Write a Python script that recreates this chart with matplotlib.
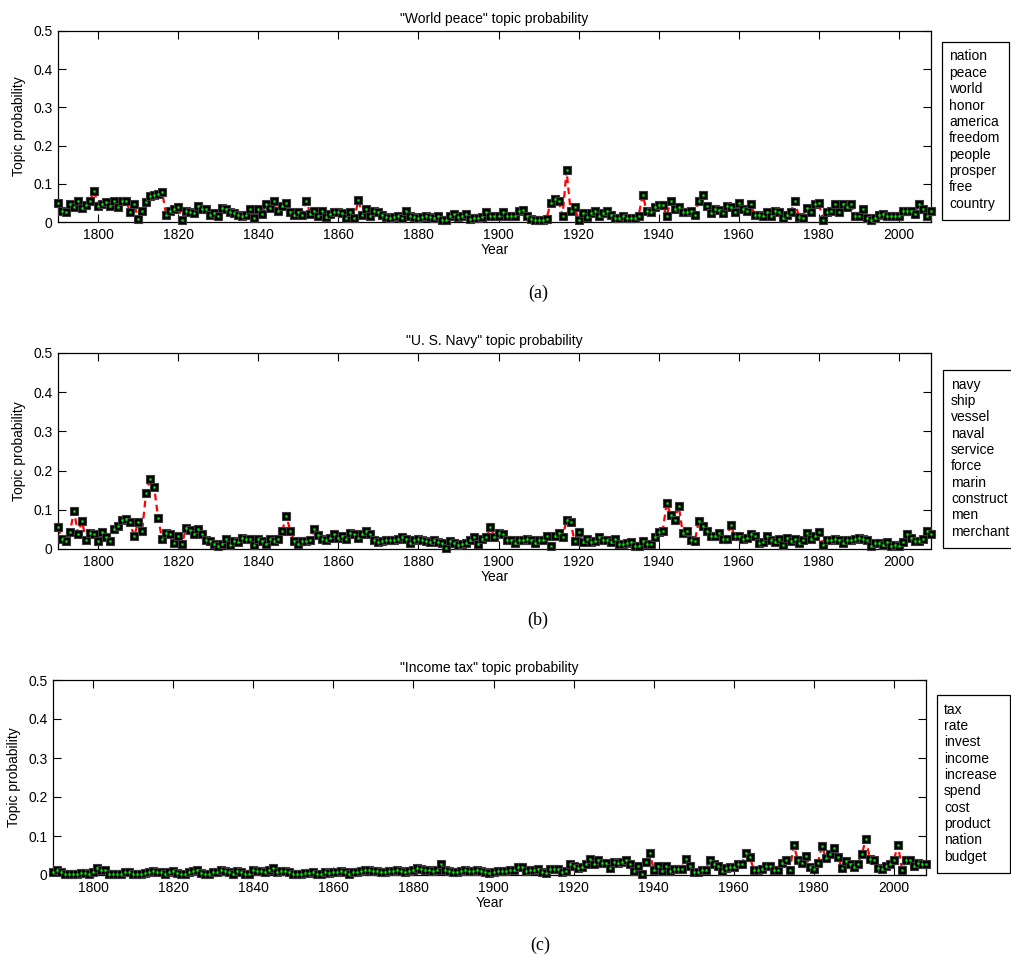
import numpy as np
import matplotlib
matplotlib.use("Agg")
import matplotlib.pyplot as plt
from matplotlib.patches import Rectangle

plt.rcParams['font.family'] = ['Liberation Sans', 'DejaVu Sans']

years = list(range(1790, 2009))

world_peace = [
    0.050, 0.030, 0.026, 0.048, 0.038, 0.056, 0.036, 0.045, 0.054, 0.082,
    0.043, 0.047, 0.052, 0.043, 0.054, 0.038, 0.054, 0.056, 0.026, 0.048,
    0.009, 0.030, 0.052, 0.067, 0.070, 0.073, 0.079, 0.019, 0.028, 0.034,
    0.039, 0.006, 0.030, 0.026, 0.023, 0.041, 0.034, 0.035, 0.019, 0.023,
    0.017, 0.036, 0.034, 0.026, 0.023, 0.019, 0.015, 0.019, 0.035, 0.010,
    0.034, 0.022, 0.047, 0.036, 0.054, 0.030, 0.043, 0.050, 0.026, 0.019,
    0.026, 0.019, 0.054, 0.022, 0.028, 0.015, 0.028, 0.013, 0.022, 0.026,
    0.026, 0.023, 0.010, 0.026, 0.010, 0.057, 0.019, 0.033, 0.017, 0.030,
    0.026, 0.019, 0.013, 0.010, 0.013, 0.017, 0.010, 0.030, 0.015, 0.013,
    0.010, 0.013, 0.015, 0.013, 0.010, 0.015, 0.006, 0.004, 0.015, 0.021,
    0.012, 0.017, 0.021, 0.008, 0.010, 0.010, 0.012, 0.026, 0.017, 0.016,
    0.015, 0.025, 0.016, 0.016, 0.017, 0.030, 0.032, 0.015, 0.008, 0.006,
    0.006, 0.006, 0.009, 0.050, 0.060, 0.054, 0.017, 0.135, 0.028, 0.039,
    0.006, 0.024, 0.013, 0.024, 0.030, 0.017, 0.024, 0.028, 0.019, 0.010,
    0.010, 0.015, 0.010, 0.010, 0.010, 0.017, 0.071, 0.028, 0.026, 0.038,
    0.045, 0.045, 0.017, 0.056, 0.034, 0.039, 0.026, 0.026, 0.028, 0.019,
    0.056, 0.070, 0.043, 0.023, 0.035, 0.032, 0.023, 0.043, 0.039, 0.025,
    0.050, 0.035, 0.028, 0.047, 0.019, 0.019, 0.015, 0.026, 0.017, 0.030,
    0.025, 0.010, 0.019, 0.026, 0.056, 0.013, 0.010, 0.037, 0.025, 0.048,
    0.050, 0.006, 0.026, 0.028, 0.048, 0.025, 0.047, 0.039, 0.048, 0.015,
    0.015, 0.034, 0.010, 0.006, 0.010, 0.019, 0.022, 0.015, 0.015, 0.017,
    0.017, 0.030, 0.030, 0.028, 0.021, 0.048, 0.035, 0.017, 0.028,
]

us_navy = [
    0.055, 0.026, 0.020, 0.044, 0.097, 0.039, 0.071, 0.022, 0.042, 0.037,
    0.020, 0.044, 0.031, 0.020, 0.050, 0.059, 0.075, 0.076, 0.068, 0.032,
    0.068, 0.046, 0.144, 0.178, 0.159, 0.079, 0.025, 0.042, 0.039, 0.015,
    0.032, 0.014, 0.054, 0.048, 0.039, 0.050, 0.037, 0.024, 0.020, 0.014,
    0.008, 0.014, 0.025, 0.011, 0.020, 0.018, 0.029, 0.026, 0.025, 0.009,
    0.026, 0.020, 0.012, 0.026, 0.020, 0.026, 0.046, 0.085, 0.046, 0.020,
    0.012, 0.020, 0.020, 0.024, 0.050, 0.035, 0.025, 0.022, 0.029, 0.037,
    0.029, 0.032, 0.026, 0.042, 0.039, 0.029, 0.037, 0.045, 0.039, 0.024,
    0.018, 0.020, 0.022, 0.022, 0.022, 0.025, 0.031, 0.026, 0.015, 0.022,
    0.026, 0.022, 0.020, 0.018, 0.022, 0.018, 0.015, 0.003, 0.020, 0.015,
    0.009, 0.014, 0.015, 0.024, 0.031, 0.012, 0.026, 0.031, 0.056, 0.031,
    0.042, 0.037, 0.024, 0.022, 0.015, 0.022, 0.022, 0.026, 0.022, 0.016,
    0.022, 0.022, 0.033, 0.008, 0.033, 0.042, 0.031, 0.074, 0.068, 0.020,
    0.044, 0.018, 0.026, 0.018, 0.020, 0.031, 0.022, 0.022, 0.018, 0.026,
    0.012, 0.012, 0.015, 0.018, 0.008, 0.008, 0.020, 0.012, 0.012, 0.031,
    0.044, 0.046, 0.118, 0.086, 0.075, 0.110, 0.042, 0.046, 0.022, 0.020,
    0.071, 0.059, 0.046, 0.032, 0.032, 0.042, 0.026, 0.026, 0.062, 0.032,
    0.032, 0.026, 0.028, 0.037, 0.032, 0.016, 0.018, 0.032, 0.022, 0.018,
    0.025, 0.011, 0.028, 0.020, 0.025, 0.016, 0.022, 0.042, 0.026, 0.033,
    0.044, 0.011, 0.022, 0.022, 0.026, 0.022, 0.015, 0.022, 0.024, 0.026,
    0.029, 0.026, 0.022, 0.008, 0.015, 0.015, 0.009, 0.018, 0.008, 0.009,
    0.008, 0.018, 0.039, 0.029, 0.020, 0.020, 0.025, 0.045, 0.038,
]

income_tax = [
    0.007, 0.012, 0.007, 0.003, 0.003, 0.003, 0.003, 0.005, 0.005, 0.003,
    0.007, 0.018, 0.014, 0.012, 0.003, 0.003, 0.003, 0.003, 0.007, 0.007,
    0.003, 0.003, 0.003, 0.005, 0.007, 0.009, 0.007, 0.007, 0.003, 0.007,
    0.009, 0.005, 0.003, 0.003, 0.007, 0.009, 0.012, 0.005, 0.003, 0.003,
    0.007, 0.007, 0.012, 0.009, 0.007, 0.003, 0.009, 0.007, 0.003, 0.003,
    0.014, 0.009, 0.011, 0.007, 0.014, 0.018, 0.007, 0.011, 0.009, 0.007,
    0.003, 0.003, 0.003, 0.005, 0.005, 0.007, 0.003, 0.003, 0.007, 0.005,
    0.007, 0.007, 0.009, 0.007, 0.003, 0.007, 0.007, 0.009, 0.014, 0.014,
    0.011, 0.009, 0.007, 0.007, 0.009, 0.011, 0.012, 0.009, 0.007, 0.009,
    0.014, 0.018, 0.015, 0.012, 0.012, 0.009, 0.012, 0.028, 0.014, 0.009,
    0.007, 0.007, 0.009, 0.012, 0.009, 0.009, 0.012, 0.009, 0.007, 0.005,
    0.007, 0.009, 0.009, 0.009, 0.012, 0.014, 0.021, 0.021, 0.009, 0.012,
    0.014, 0.015, 0.007, 0.005, 0.015, 0.015, 0.016, 0.007, 0.011, 0.027,
    0.022, 0.018, 0.021, 0.027, 0.042, 0.027, 0.038, 0.031, 0.031, 0.018,
    0.033, 0.031, 0.033, 0.038, 0.027, 0.009, 0.022, 0.003, 0.033, 0.057,
    0.014, 0.022, 0.009, 0.022, 0.009, 0.015, 0.015, 0.016, 0.041, 0.024,
    0.007, 0.007, 0.012, 0.014, 0.038, 0.027, 0.022, 0.009, 0.018, 0.021,
    0.021, 0.027, 0.027, 0.057, 0.046, 0.014, 0.014, 0.016, 0.022, 0.022,
    0.014, 0.014, 0.031, 0.038, 0.014, 0.076, 0.038, 0.031, 0.048, 0.021,
    0.016, 0.031, 0.074, 0.044, 0.055, 0.069, 0.046, 0.018, 0.035, 0.029,
    0.021, 0.029, 0.055, 0.092, 0.041, 0.039, 0.018, 0.016, 0.022, 0.027,
    0.039, 0.078, 0.014, 0.039, 0.039, 0.024, 0.031, 0.027, 0.027,
]

titles = ['"World peace" topic probability',
          '"U. S. Navy" topic probability',
          '"Income tax" topic probability']
words_a = ['nation', 'peace', 'world', 'honor', 'america', 'freedom',
           'people', 'prosper', 'free', 'country']
words_b = ['navy', 'ship', 'vessel', 'naval', 'service', 'force',
           'marin', 'construct', 'men', 'merchant']
words_c = ['tax', 'rate', 'invest', 'income', 'increase', 'spend',
           'cost', 'product', 'nation', 'budget']
captions = ['(a)', '(b)', '(c)']
yticks = [0, 0.1, 0.2, 0.3, 0.4, 0.5]
yticklabels = ['0', '0.1', '0.2', '0.3', '0.4', '0.5']
xticks = [1800, 1820, 1840, 1860, 1880, 1900, 1920, 1940, 1960, 1980, 2000]

W, H = 1011, 958
fig = plt.figure(figsize=(W / 100, H / 100), dpi=100)

def fx(px):
    return px / W

def fy(py):
    return 1 - py / H

# axes geometry in pixels: left, right, top, bottom
axes_px = [(58, 931, 31, 222), (58, 931, 353, 549), (53, 926, 680, 875)]
boxes_px = [(942, 1009, 42, 220, 949, 55),
            (943, 1013, 370, 548, 951, 383),
            (937, 1010, 695, 873, 944, 708)]
caption_px = [(538, 293), (538, 620), (540, 945)]
series = [world_peace, us_navy, income_tax]
words = [words_a, words_b, words_c]

for i in range(3):
    l, r, t, b = axes_px[i]
    ax = fig.add_axes([fx(l), fy(b), fx(r) - fx(l), fy(t) - fy(b)])
    ys = series[i]
    ax.plot(years, ys, color='#ff0000', lw=1.6, ls=(0, (3, 2)), zorder=2)
    ax.plot(years, ys, ls='none', marker='s', ms=6.0, mfc='black',
            mec='#3a3a3a', mew=0.8, zorder=3, clip_on=False)
    ax.plot(years, ys, ls='none', marker='s', ms=1.3, mfc='#00ff00',
            mec='#00dd00', mew=0.3, zorder=4, clip_on=False)
    ax.set_xlim(1790, 2008)
    ax.set_ylim(0, 0.5)
    ax.set_yticks(yticks)
    ax.set_yticklabels(yticklabels)
    ax.set_xticks(xticks)
    ax.tick_params(direction='in', length=6, width=0.8, top=True, right=True,
                   labelsize=10, colors='black', pad=4)
    for s in ax.spines.values():
        s.set_linewidth(0.9)
    ax.set_title(titles[i], fontsize=10, pad=6)
    ax.set_xlabel('Year', fontsize=10, labelpad=1)
    ax.set_ylabel('Topic probability', fontsize=10, labelpad=5)

    bl, br, bt, bb, tx, ty0 = boxes_px[i]
    fig.patches.append(Rectangle((fx(bl), fy(bb)), fx(br) - fx(bl), fy(bt) - fy(bb),
                                 transform=fig.transFigure, fill=False,
                                 edgecolor='black', lw=0.9))
    for k, w in enumerate(words[i]):
        fig.text(fx(tx), fy(ty0 + 16.35 * k), w, fontsize=10,
                 ha='left', va='center_baseline')

    cx, cy = caption_px[i]
    fig.text(fx(cx), fy(cy), captions[i], fontsize=13, ha='center', va='center',
             family=['Liberation Serif', 'DejaVu Serif'])

fig.savefig('out.png', dpi=100)
